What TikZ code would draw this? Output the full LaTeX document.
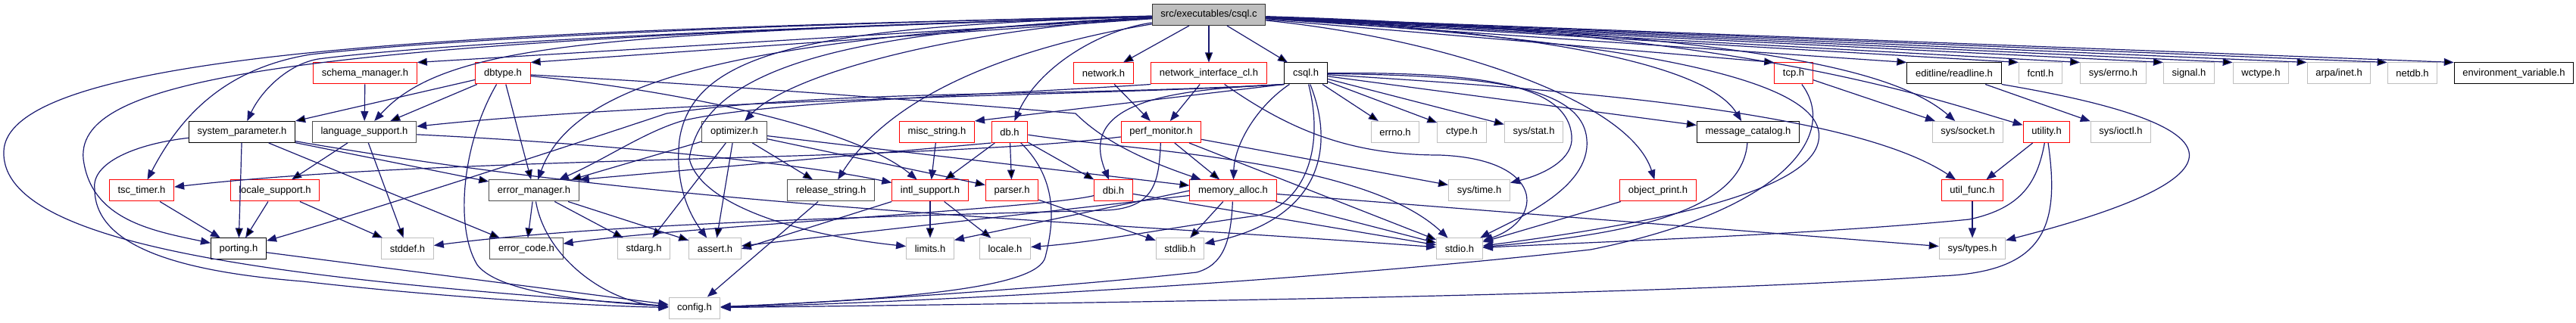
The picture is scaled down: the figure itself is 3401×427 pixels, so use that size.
\documentclass[tikz,border=0pt]{standalone}
\usepackage{fontspec}
\setmainfont{Liberation Sans}
\usepackage{tikz}
\usetikzlibrary{arrows.meta}
\definecolor{edgeblue}{RGB}{25,25,112}
\definecolor{grey75}{RGB}{191,191,191}

\begin{document}
\begin{tikzpicture}[x=0.5pt,y=-0.5pt,
    every node/.style={font=\fontsize{6.5}{7}\selectfont},
    hdr/.style={draw,fill=white,line width=0.5pt,minimum height=14pt,inner xsep=5.6pt,inner ysep=0pt},
    docd/.style={hdr,draw=black},
    dark/.style={hdr,draw=black!70},
    trunc/.style={hdr,draw=red},
    ext/.style={hdr,draw=grey75},
    rootbox/.style={hdr,draw=black!80,fill=grey75},
    dep/.style={draw=edgeblue,line width=0.6pt,-{Triangle[length=6.5pt,width=5pt]}}
]
\useasboundingbox (0,0) rectangle (3401,427);

\node[rootbox] (root) at (1596,19.5) {src/executables/csql.c};

\node[trunc] (schema)   at (482,97)  {schema\_manager.h};
\node[trunc] (dbtype)   at (664,97)  {dbtype.h};
\node[trunc] (network)  at (1457,97) {network.h};
\node[trunc] (netif)    at (1596,97) {network\_interface\_cl.h};
\node[docd]  (csqlh)    at (1724,97) {csql.h};
\node[trunc] (tcp)      at (2368,97) {tcp.h};
\node[docd]  (readline) at (2580,97) {editline/readline.h};
\node[ext]   (fcntl)    at (2694,97) {fcntl.h};
\node[ext]   (syserrno) at (2790,97) {sys/errno.h};
\node[ext]   (signal)   at (2890,97) {signal.h};
\node[ext]   (wctype)   at (2985,97) {wctype.h};
\node[ext]   (inet)     at (3088,97) {arpa/inet.h};
\node[ext]   (netdb)    at (3185,97) {netdb.h};
\node[docd]  (envvar)   at (3319,97) {environment\_variable.h};

\node[docd]  (sysparam)  at (319.5,174.5) {system\_parameter.h};
\node[dark]  (langsup)   at (481,174.5)   {language\_support.h};
\node[dark]  (optimizer) at (969.5,174.5) {optimizer.h};
\node[trunc] (miscstr)   at (1237,174.5)  {misc\_string.h};
\node[trunc] (db)        at (1333,174.5)  {db.h};
\node[trunc] (perfmon)   at (1533,174.5)  {perf\_monitor.h};
\node[ext]   (errno)     at (1842,174.5)  {errno.h};
\node[ext]   (ctype)     at (1930,174.5)  {ctype.h};
\node[ext]   (sysstat)   at (2025,174.5)  {sys/stat.h};
\node[docd]  (msgcat)    at (2308,174.5)  {message\_catalog.h};
\node[ext]   (syssocket) at (2598,174.5)  {sys/socket.h};
\node[trunc] (utility)   at (2702,174.5)  {utility.h};
\node[ext]   (sysioctl)  at (2800,174.5)  {sys/ioctl.h};

\node[trunc] (tsc)      at (187,252)  {tsc\_timer.h};
\node[trunc] (locsup)   at (363,252)  {locale\_support.h};
\node[dark]  (errmgr)   at (705,252)  {error\_manager.h};
\node[dark]  (relstr)   at (1097,252) {release\_string.h};
\node[trunc] (intl)     at (1228,252) {intl\_support.h};
\node[trunc] (parser)   at (1336,252) {parser.h};
\node[trunc] (dbi)      at (1470,252) {dbi.h};
\node[trunc] (memalloc) at (1628,252) {memory\_alloc.h};
\node[ext]   (systime)  at (1953,252) {sys/time.h};
\node[trunc] (objprint) at (2189,252) {object\_print.h};
\node[trunc] (utilfunc) at (2604,252) {util\_func.h};

\node[docd] (porting)  at (315,329)  {porting.h};
\node[ext]  (stddef)   at (538,329)  {stddef.h};
\node[dark] (errcode)  at (695,329)  {error\_code.h};
\node[ext]  (stdarg)   at (850,329)  {stdarg.h};
\node[ext]  (assert)   at (944,329)  {assert.h};
\node[ext]  (limits)   at (1228,329) {limits.h};
\node[ext]  (locale)   at (1327,329) {locale.h};
\node[ext]  (stdlib)   at (1558,329) {stdlib.h};
\node[ext]  (stdio)    at (1927,329) {stdio.h};
\node[ext]  (systypes) at (2604,329) {sys/types.h};

\node[ext] (config) at (917,407) {config.h};

% straight includes
\draw[dep] (root) edge (schema.north east) edge (dbtype.north east) edge (network) edge (netif) edge (csqlh)
  edge (tcp.north west) edge (readline.north west) edge (fcntl.north west) edge (syserrno.north west)
  edge (signal.north west) edge (wctype.north west) edge (inet.north west) edge (netdb.north west)
  edge (envvar.north west);
\draw[dep] (schema) -- (langsup);
\draw[dep] (dbtype) edge (langsup) edge (sysparam.north east) edge (errmgr);
\draw[dep] (sysparam) edge (porting) edge (errmgr) edge (errcode);
\draw[dep] (langsup) edge (locsup) edge (stddef);
\draw[dep] (locsup) edge (porting) edge (stddef);
\draw[dep] (tsc) -- (porting);
\draw[dep] (porting) -- (config);
\draw[dep] (errmgr) edge (errcode) edge (stdarg) edge (assert);
\draw[dep] (optimizer) edge (relstr) edge (assert) edge (stdarg) edge (errmgr) edge (memalloc) edge (parser);
\draw[dep] (relstr) -- (config);
\draw[dep] (miscstr) -- (intl);
\draw[dep] (intl) edge (limits) edge (locale);
\draw[dep] (intl.south west) -- (assert.east);
\draw[dep] (db) edge (parser) edge (dbi) edge (intl);
\draw[dep] (db.south west) -- (errmgr.north east);
\draw[dep] (network) -- (perfmon);
\draw[dep] (netif) -- (perfmon);
\draw[dep] (perfmon) edge (memalloc) edge (systime) edge (stdio);
\draw[dep] (dbi) -- (stdio);
\draw[dep] (parser) -- (stdlib);
\draw[dep] (memalloc) edge (stdlib) edge (assert) edge (stdio) edge (systypes);
\draw[dep] (memalloc.west) -- (limits.20);
\draw[dep] (objprint) -- (stdio);
\draw[dep] (tcp) -- (syssocket);
\draw[dep] (utility) -- (utilfunc);
\draw[dep] (utilfunc) -- (systypes);
\draw[dep] (readline) -- (sysioctl);
\draw[dep] (csqlh) edge (errno) edge (ctype) edge (sysstat) edge (msgcat);
\draw[dep] (csqlh.south west) -- (miscstr.north east);

% curved includes
\draw[dep] (root) .. controls (700,40) and (10,60) .. (5,200) .. controls (0,330) and (400,370) .. (config);
\draw[dep] (root) .. controls (400,55) and (100,100) .. (110,210) .. controls (120,290) and (200,305) .. (porting);
\draw[dep] (root) .. controls (900,35) and (560,55) .. (410,72) .. controls (300,90) and (240,150) .. (tsc);
\draw[dep] (root) .. controls (900,40) and (560,60) .. (420,78) .. controls (380,85) and (345,120) .. (sysparam);
\draw[dep] (root) .. controls (800,45) and (590,55) .. (langsup);
\draw[dep] (root) .. controls (1000,50) and (760,100) .. (errmgr);
\draw[dep] (root) .. controls (1250,40) and (1040,100) .. (optimizer);
\draw[dep] (root) .. controls (1350,60) and (1180,120) .. (relstr);
\draw[dep] (root) .. controls (1100,35) and (915,60) .. (897,185) .. controls (890,250) and (915,290) .. (assert);
\draw[dep] (root) .. controls (1150,40) and (930,80) .. (910,210) .. controls (925,270) and (1050,310) .. (limits);
\draw[dep] (root) .. controls (1450,40) and (1370,90) .. (db);
\draw[dep] (root) .. controls (2000,40) and (2250,80) .. (msgcat);
\draw[dep] (root) .. controls (1900,50) and (2150,130) .. (objprint);
\draw[dep] (root) .. controls (2250,60) and (2420,120) .. (2400,190) .. controls (2380,260) and (2150,300) .. (stdio);
\draw[dep] (root) .. controls (2300,45) and (2500,90) .. (syssocket);
\draw[dep] (root) .. controls (2300,40) and (2550,130) .. (utility);

\draw[dep] (csqlh.south west) .. controls (1500,125) and (900,130) .. (langsup);
\draw[dep] (csqlh.south west) .. controls (1400,128) and (1100,118) .. (880,150) .. controls (700,210) and (450,290) .. (porting);
\draw[dep] (csqlh.south west) .. controls (1560,118) and (1420,130) .. (dbi);
\draw[dep] (csqlh) .. controls (1660,140) and (1630,190) .. (memalloc);
\draw[dep] (csqlh) .. controls (1765,200) and (1740,290) .. (stdlib);
\draw[dep] (csqlh) .. controls (1750,200) and (1720,270) .. (1660,285) .. controls (1550,300) and (1450,320) .. (locale);
\draw[dep] (csqlh) .. controls (1950,100) and (2090,110) .. (2095,185) .. controls (2100,250) and (2000,290) .. (stdio);
\draw[dep] (csqlh) .. controls (1950,95) and (2070,110) .. (2075,180) .. controls (2078,210) and (2040,230) .. (systime);
\draw[dep] (csqlh) .. controls (2100,120) and (2450,150) .. (utilfunc);

\draw[dep] (dbtype) .. controls (610,190) and (600,300) .. (630,350) .. controls (660,390) and (800,400) .. (config);
\draw[dep] (dbtype) .. controls (900,120) and (1130,170) .. (intl);
\draw[dep] (dbtype) .. controls (1000,115) and (1300,140) .. (1420,150) .. controls (1460,190) and (1520,215) .. (memalloc);

\draw[dep] (sysparam) .. controls (180,190) and (120,215) .. (125,250) .. controls (125,330) and (250,360) .. (400,372) .. controls (600,395) and (800,405) .. (config);
\draw[dep] (sysparam) .. controls (900,275) and (1400,290) .. (stdio);
\draw[dep] (langsup) .. controls (800,190) and (1050,215) .. (intl);
\draw[dep] (errmgr) .. controls (720,340) and (800,400) .. (config);

\draw[dep] (perfmon) .. controls (1200,215) and (600,205) .. (tsc);
\draw[dep] (perfmon) .. controls (1530,240) and (1525,275) .. (1460,278) .. controls (1200,285) and (800,295) .. (stddef);
\draw[dep] (netif.south west) .. controls (1300,126) and (1000,135) .. (900,160) .. controls (850,175) and (800,210) .. (errmgr);
\draw[dep] (netif) .. controls (1700,170) and (1780,205) .. (1900,205) .. controls (2040,210) and (2040,290) .. (stdio);
\draw[dep] (db) .. controls (1400,240) and (1390,300) .. (1380,340) .. controls (1370,380) and (1200,395) .. (config);
\draw[dep] (db) .. controls (1500,200) and (1800,210) .. (stdio);
\draw[dep] (dbi) .. controls (1380,275) and (900,300) .. (errcode);
\draw[dep] (memalloc) .. controls (1625,320) and (1615,350) .. (1580,360) .. controls (1400,380) and (1100,400) .. (config);

\draw[dep] (msgcat) .. controls (2300,280) and (2150,310) .. (stdio);
\draw[dep] (tcp) .. controls (2430,180) and (2350,280) .. (2100,330) .. controls (1700,375) and (1200,400) .. (config);
\draw[dep] (utility) .. controls (2690,240) and (2670,275) .. (2600,290) .. controls (2400,310) and (2100,320) .. (stdio);
\draw[dep] (utility) .. controls (2720,300) and (2700,360) .. (2560,365) .. controls (2200,390) and (1500,400) .. (config);
\draw[dep] (readline.south east) .. controls (2990,170) and (2950,240) .. (systypes);
\end{tikzpicture}
\end{document}
